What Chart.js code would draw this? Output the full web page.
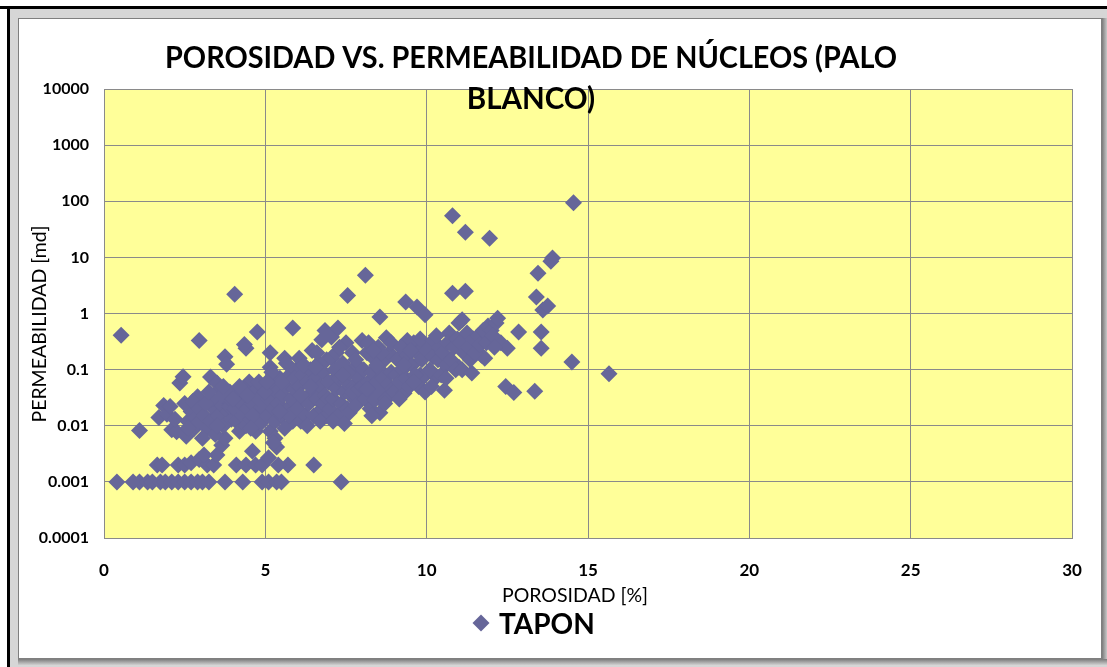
<!DOCTYPE html>
<html>
<head>
<meta charset="utf-8">
<script src="https://cdn.jsdelivr.net/npm/chart.js@4/dist/chart.umd.min.js"></script>
<style>
  html, body { margin: 0; padding: 0; background: #fff; }
  #wrap { width: 1107px; height: 667px; }
</style>
</head>
<body>
<div id="wrap"><canvas id="grafico" width="1107" height="667"></canvas></div>
<script>
// Porosidad (%) y permeabilidad (md) de los tapones de núcleo, agrupados por intervalos de porosidad
const porosidad = [
  0.4,0.9,1.1,1.35,1.5,1.75,1.9,0.53,1.1,1.65,1.8,1.7,1.85,1.95,
  2.1,2.3,2.5,2.7,2.9,2.3,2.5,2.7,2.95,2.1,2.25,2.55,2.05,2.2,2.35,2.45,2.9,2.95,2.6,2.7,2.8,2.85,2.5,2.75,2.95,2.9,2.6,
  3.05,3.25,3.75,3.2,3.4,3.5,3.1,3.65,3.75,3.3,3.5,3.75,3.8,3.6,3.1,3.2,3.3,3.4,3.45,3.55,3.6,3.7,3.8,3.85,3.9,3.95,3.35,3.15,3.65,3.05,3.5,3.9,3.7,3.25,3.95,
  4.3,4.9,4.05,4.4,4.35,4.75,4.5,4.1,4.4,4.7,4.9,4.6,4.05,4.1,4.15,4.2,4.25,4.3,4.35,4.4,4.45,4.5,4.55,4.6,4.65,4.7,4.75,4.8,4.85,4.9,4.95,4.2,4.6,4.8,4.55,4.0,4.45,
  5.1,5.35,5.5,5.1,5.35,5.15,5.15,5.85,5.7,5.4,5.6,5.05,5.1,5.15,5.2,5.25,5.3,5.35,5.4,5.45,5.5,5.55,5.6,5.65,5.7,5.75,5.8,5.85,5.9,5.95,5.2,5.5,5.3,5.75,5.95,5.0,5.45,5.65,5.9,5.05,5.25,
  6.5,6.05,6.45,6.75,6.85,6.0,6.05,6.1,6.15,6.2,6.25,6.3,6.35,6.4,6.45,6.5,6.55,6.6,6.65,6.7,6.75,6.8,6.85,6.9,6.95,6.2,6.6,6.9,6.3,6.7,6.1,6.4,6.8,6.55,6.95,
  7.35,7.05,7.25,7.05,7.55,7.0,7.05,7.1,7.15,7.2,7.25,7.3,7.35,7.4,7.45,7.5,7.55,7.6,7.6,7.65,7.7,7.75,7.8,7.85,7.9,7.95,7.2,7.5,7.8,7.1,7.4,7.7,7.3,7.9,7.45,
  8.1,8.0,8.55,8.75,8.0,8.05,8.1,8.15,8.2,8.25,8.3,8.35,8.4,8.4,8.45,8.5,8.55,8.55,8.6,8.65,8.7,8.75,8.8,8.85,8.9,8.95,8.2,8.3,8.6,8.9,8.45,8.15,8.7,8.35,
  9.35,9.7,9.95,9.4,9.0,9.3,9.5,9.8,9.9,9.05,9.1,9.15,9.2,9.25,9.35,9.4,9.45,9.55,9.6,9.65,9.7,9.75,9.85,9.9,9.95,9.15,9.5,9.8,9.3,9.6,
  10.2,10.0,10.2,10.3,10.55,10.7,10.8,10.8,11.0,11.0,10.1,10.15,10.35,10.4,10.45,10.5,10.6,10.65,10.75,10.85,10.9,10.95,10.3,10.6,
  11.2,11.2,11.1,11.1,11.4,11.7,11.8,11.55,11.95,11.05,11.15,11.25,11.3,11.35,11.45,11.5,11.6,11.65,11.75,11.85,11.9,12.0,
  12.15,12.2,12.3,12.5,12.45,12.7,12.85,13.35,13.4,13.45,13.55,13.55,13.6,13.75,13.9,14.5,14.55,15.65,12.05,12.1,13.85
];
const permeabilidad = [
  0.001,0.001,0.001,0.001,0.001,0.001,0.001,0.41,0.0082,0.002,0.002,0.014,0.023,0.016,
  0.001,0.001,0.001,0.001,0.001,0.002,0.002,0.0022,0.0025,0.0085,0.0078,0.0065,0.022,0.013,0.058,0.075,0.033,0.33,0.012,0.018,0.009,0.014,0.025,0.027,0.02,0.011,0.009,
  0.001,0.001,0.001,0.002,0.002,0.003,0.003,0.0045,0.006,0.074,0.058,0.17,0.125,0.045,0.015,0.009,0.012,0.02,0.007,0.015,0.025,0.01,0.03,0.018,0.04,0.013,0.03,0.025,0.035,0.006,0.01,0.022,0.05,0.04,0.028,
  0.001,0.001,2.2,0.24,0.28,0.47,0.06,0.002,0.002,0.002,0.002,0.0035,0.02,0.012,0.035,0.008,0.025,0.015,0.045,0.01,0.02,0.03,0.013,0.025,0.04,0.008,0.018,0.03,0.011,0.05,0.02,0.05,0.015,0.06,0.009,0.03,0.035,
  0.001,0.001,0.001,0.0027,0.0042,0.2,0.11,0.55,0.002,0.002,0.16,0.015,0.03,0.008,0.05,0.02,0.012,0.04,0.025,0.07,0.015,0.035,0.009,0.05,0.02,0.08,0.03,0.012,0.045,0.1,0.09,0.06,0.006,0.015,0.025,0.04,0.018,0.13,0.07,0.06,0.005,
  0.002,0.16,0.22,0.34,0.5,0.02,0.05,0.012,0.08,0.03,0.015,0.06,0.025,0.1,0.04,0.015,0.07,0.03,0.13,0.05,0.02,0.09,0.035,0.015,0.06,0.12,0.2,0.15,0.01,0.012,0.035,0.05,0.025,0.11,0.03,
  0.001,0.38,0.55,0.16,2.1,0.02,0.06,0.03,0.1,0.045,0.015,0.07,0.025,0.13,0.04,0.06,0.02,0.017,0.09,0.035,0.2,0.05,0.023,0.12,0.07,0.03,0.2,0.3,0.15,0.012,0.08,0.04,0.25,0.045,0.011,
  4.8,0.33,0.87,0.37,0.05,0.1,0.03,0.2,0.06,0.02,0.09,0.04,0.029,0.15,0.06,0.25,0.017,0.1,0.04,0.07,0.15,0.03,0.055,0.2,0.09,0.045,0.3,0.015,0.2,0.3,0.12,0.045,0.025,0.22,
  1.6,1.3,0.95,0.33,0.04,0.038,0.053,0.08,0.074,0.08,0.15,0.06,0.25,0.1,0.07,0.18,0.05,0.12,0.3,0.08,0.2,0.05,0.15,0.25,0.04,0.03,0.22,0.35,0.12,0.06,
  0.33,0.22,0.17,0.074,0.043,0.45,55,2.3,0.68,0.11,0.1,0.05,0.15,0.25,0.08,0.2,0.12,0.3,0.15,0.25,0.1,0.35,0.4,0.07,
  28,2.5,0.77,0.1,0.087,0.18,0.16,0.33,22,0.3,0.2,0.45,0.25,0.15,0.35,0.2,0.4,0.28,0.5,0.3,0.6,0.5,
  0.68,0.82,0.3,0.24,0.05,0.039,0.47,0.041,1.97,5.2,0.47,0.24,1.15,1.36,9.7,0.137,94,0.084,0.4,0.25,8.5
];

// Marcas de los ejes
const ticksPermeabilidad = [0.0001, 0.001, 0.01, 0.1, 1, 10, 100, 1000, 10000];
const ejeX = { min: 0, max: 30, paso: 5 };

// Textos
const tituloLineas = ['POROSIDAD VS. PERMEABILIDAD DE NÚCLEOS (PALO', 'BLANCO)'];
const tituloX = 'POROSIDAD [%]';
const tituloY = 'PERMEABILIDAD [md]';
const nombreSerie = 'TAPON';

const colorSerie = '#666699';
const colorGrid = '#8a8a8a';
const FUENTE = 'Lato, "Open Sans", sans-serif';

const puntos = porosidad.map((x, i) => ({ x, y: permeabilidad[i] }));

// Marco, fondo del área de trazado, títulos y leyenda
const decoracion = {
  id: 'decoracion',
  beforeDraw(chart) {
    const ctx = chart.ctx;
    const W = chart.width, H = chart.height;
    ctx.save();
    ctx.fillStyle = '#ffffff';
    ctx.fillRect(0, 0, W, H);
    // banda gris exterior
    ctx.fillStyle = '#d6d6d6';
    ctx.fillRect(10, 9, W - 10, H - 9);
    // borde negro superior e izquierdo
    ctx.fillStyle = '#000000';
    ctx.fillRect(0, 6, W, 3);
    ctx.fillRect(7, 6, 3, H - 6);
    // sombra derecha e inferior
    const g = ctx.createLinearGradient(1102, 0, 1107, 0);
    g.addColorStop(0, '#7a7a7a'); g.addColorStop(1, '#c8c8c8');
    ctx.fillStyle = g;
    ctx.fillRect(1102, 18, 5, 646);
    const gb = ctx.createLinearGradient(0, 659, 0, 665);
    gb.addColorStop(0, '#7a7a7a'); gb.addColorStop(1, '#d0d0d0');
    ctx.fillStyle = gb;
    ctx.fillRect(18, 659, 1089, 6);
    // panel blanco
    ctx.fillStyle = '#ffffff';
    ctx.fillRect(18, 18, 1084, 641);
    ctx.strokeStyle = '#7f7f7f';
    ctx.lineWidth = 1;
    ctx.strokeRect(18.5, 18.5, 1083, 640);
    // fondo amarillo del área de trazado
    const a = chart.chartArea;
    ctx.fillStyle = '#ffff99';
    ctx.fillRect(a.left, a.top, a.right - a.left, a.bottom - a.top);
    ctx.restore();
  },
  afterDraw(chart) {
    const ctx = chart.ctx;
    ctx.save();
    ctx.fillStyle = '#000000';
    // título
    ctx.font = 'bold 29.5px ' + FUENTE;
    ctx.textAlign = 'center';
    ctx.textBaseline = 'alphabetic';
    ctx.fillText(tituloLineas[0], 531, 68, 732);
    ctx.fillText(tituloLineas[1], 531, 109);
    // título eje X
    ctx.font = '19.5px ' + FUENTE;
    ctx.textBaseline = 'middle';
    ctx.fillText(tituloX, 575, 596);
    // título eje Y
    ctx.save();
    ctx.translate(40, 324);
    ctx.rotate(-Math.PI / 2);
    ctx.fillText(tituloY, 0, 0);
    ctx.restore();
    // leyenda
    const lx = 481, ly = 623, r = 8.5;
    ctx.fillStyle = colorSerie;
    ctx.beginPath();
    ctx.moveTo(lx - r, ly); ctx.lineTo(lx, ly - r); ctx.lineTo(lx + r, ly); ctx.lineTo(lx, ly + r);
    ctx.closePath();
    ctx.fill();
    ctx.fillStyle = '#000000';
    ctx.font = 'bold 28px ' + FUENTE;
    ctx.textAlign = 'left';
    ctx.fillText(nombreSerie, 499, 625);
    ctx.restore();
  }
};

new Chart(document.getElementById('grafico'), {
  type: 'scatter',
  data: {
    datasets: [{
      label: nombreSerie,
      data: puntos,
      pointStyle: 'rectRot',
      pointRadius: 8.5,
      pointHoverRadius: 8.5,
      backgroundColor: colorSerie,
      borderColor: colorSerie,
      borderWidth: 0
    }]
  },
  options: {
    responsive: false,
    animation: false,
    events: [],
    layout: { padding: { left: 20, right: 35, top: 89, bottom: 0 } },
    plugins: { legend: { display: false }, title: { display: false }, tooltip: { enabled: false } },
    scales: {
      x: {
        type: 'linear',
        min: ejeX.min, max: ejeX.max,
        ticks: { stepSize: ejeX.paso, color: '#000', padding: 22, font: { family: FUENTE, weight: 'bold', size: 17 } },
        grid: { color: colorGrid, drawTicks: false, lineWidth: 1 },
        border: { color: colorGrid },
        afterFit(s) { s.height = 129; }
      },
      y: {
        type: 'logarithmic',
        min: ticksPermeabilidad[0], max: ticksPermeabilidad[ticksPermeabilidad.length - 1],
        afterBuildTicks(s) { s.ticks = ticksPermeabilidad.map(v => ({ value: v })); },
        ticks: { color: '#000', padding: 15, autoSkip: false, font: { family: FUENTE, weight: 'bold', size: 16 },
                 callback: v => String(v) },
        grid: { color: colorGrid, drawTicks: false, lineWidth: 1 },
        border: { color: colorGrid },
        afterFit(s) { s.width = 84; }
      }
    }
  },
  plugins: [decoracion]
});
</script>
</body>
</html>
